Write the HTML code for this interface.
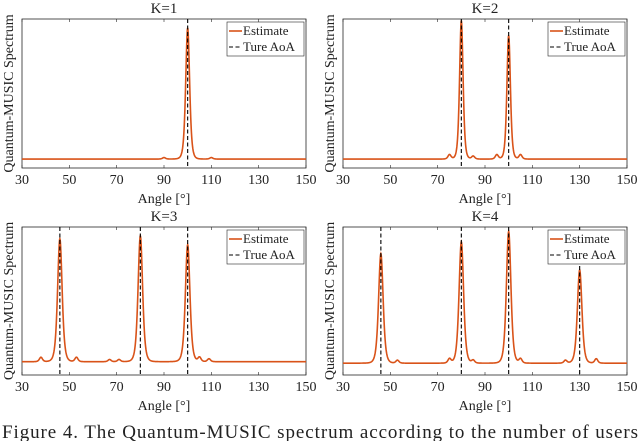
<!DOCTYPE html>
<html><head><meta charset="utf-8"><style>
body{margin:0;background:#fff;}
svg{display:block;font-family:"Liberation Serif",serif;}
</style></head><body>
<svg id="fig" width="640" height="441" xmlns="http://www.w3.org/2000/svg"></svg>
<script>
const xTicks=[30,50,70,90,110,130,150];
const titles=["K=1","K=2","K=3","K=4"];
const legendTrue=["Ture AoA","True AoA","True AoA","Ture AoA"];
const baselines=[0.06,0.06,0.09,0.08];
const peakAngles1=[100,90,110];const peakHeights1=[0.88,0.01,0.01];
const peakAngles2=[80,100,75,95,105,85];const peakHeights2=[0.93,0.83,0.03,0.03,0.03,0.02];
const peakAngles3=[46,80,100,38,53,105,109,67,71];const peakHeights3=[0.83,0.85,0.79,0.03,0.03,0.03,0.02,0.015,0.015];
const peakAngles4=[46,80,100,130,53,75,85,105,124,137];const peakHeights4=[0.74,0.82,0.89,0.63,0.02,0.03,0.02,0.03,0.02,0.03];
const peakWidths=[1.9,1.7,2.2,2.2];
const panels=[
 {x0:22,x1:306,y0:19,y1:168,pa:peakAngles1,ph:peakHeights1},
 {x0:343,x1:627,y0:19,y1:168,pa:peakAngles2,ph:peakHeights2},
 {x0:22,x1:306,y0:227,y1:375,pa:peakAngles3,ph:peakHeights3},
 {x0:343,x1:627,y0:227,y1:375,pa:peakAngles4,ph:peakHeights4}];
const NS="http://www.w3.org/2000/svg";
const svg=document.getElementById('fig');
function mk(t,a,p){const e=document.createElementNS(NS,t);for(const k in a)e.setAttribute(k,a[k]);(p||svg).appendChild(e);return e;}
panels.forEach((P,i)=>{
 const g=mk('g',{});
 
 
 const sx=v=>P.x0+(v-30)/120*(P.x1-P.x0);
 const sy=v=>P.y1-v*(P.y1-P.y0);
 mk('rect',{x:P.x0,y:P.y0,width:P.x1-P.x0,height:P.y1-P.y0,fill:'#fff',stroke:'#262626','stroke-width':0.8},g);
 xTicks.forEach(t=>{
  mk('line',{x1:sx(t),x2:sx(t),y1:P.y1,y2:P.y1-3,stroke:'#262626','stroke-width':0.6},g);
  mk('line',{x1:sx(t),x2:sx(t),y1:P.y0,y2:P.y0+3,stroke:'#262626','stroke-width':0.6},g);
  const tx=mk('text',{x:sx(t),y:P.y1+16,'text-anchor':'middle','font-size':14,fill:'#222'},g);
  tx.textContent=t;
  
  
 });
 const tt=mk('text',{x:(P.x0+P.x1)/2,y:P.y0-6,'text-anchor':'middle','font-size':15,fill:'#222'},g);
 tt.textContent=titles[i];
 
 
 const xl=mk('text',{x:(P.x0+P.x1)/2,y:P.y1+35,'text-anchor':'middle','font-size':14,fill:'#222'},g);
 xl.textContent='Angle [°]';
 
 
 const yl=mk('text',{x:0,y:0,'text-anchor':'middle','font-size':14,fill:'#222',transform:`translate(${P.x0-9},${(P.y0+P.y1)/2}) rotate(-90)`},g);
 yl.textContent='Quantum-MUSIC Spectrum';
 
 
 const w=peakWidths[i];let d='';
 for(let a=30;a<=150.001;a+=0.1){
  let v=baselines[i];
  P.pa.forEach((p,j)=>{const gw=P.ph[j]<0.1?1.5:w;const l=gw*gw/((a-p)*(a-p)+gw*gw);v+=P.ph[j]*l*l*l;});
  d+=(d?'L':'M')+sx(a).toFixed(2)+','+sy(v).toFixed(2);
 }
 const c=mk('path',{d:d,fill:'none',stroke:'#D95319','stroke-width':1.6},g);
 
 
 const n=i+1;
 for(let j=0;j<n;j++){
  const dl=mk('line',{x1:sx(P.pa[j]),x2:sx(P.pa[j]),y1:P.y0,y2:P.y1,stroke:'#000','stroke-width':1.1,'stroke-dasharray':'4,2.5'},g);
  
  
 }
 const lx=P.x1-79,ly=P.y0+3;
 const lg=mk('g',{},g);
 
 
 mk('rect',{x:lx,y:ly,width:77,height:34,fill:'#fff',stroke:'#262626','stroke-width':0.6},lg);
 mk('line',{x1:lx+2,x2:lx+15,y1:ly+9,y2:ly+9,stroke:'#D95319','stroke-width':1.6},lg);
 const t1=mk('text',{x:lx+16,y:ly+13,'font-size':13,fill:'#222'},lg);t1.textContent='Estimate';
 mk('line',{x1:lx+2,x2:lx+15,y1:ly+25,y2:ly+25,stroke:'#000','stroke-width':1.1,'stroke-dasharray':'4,2.5'},lg);
 const t2=mk('text',{x:lx+16,y:ly+29,'font-size':13,fill:'#222'},lg);t2.textContent=legendTrue[i];
});
const cap=mk('text',{x:2,y:438,'font-size':19,fill:'#222',textLength:636,lengthAdjust:'spacing'});
cap.textContent='Figure 4.   The Quantum-MUSIC spectrum according to the number of users';


</script>
</body></html>
